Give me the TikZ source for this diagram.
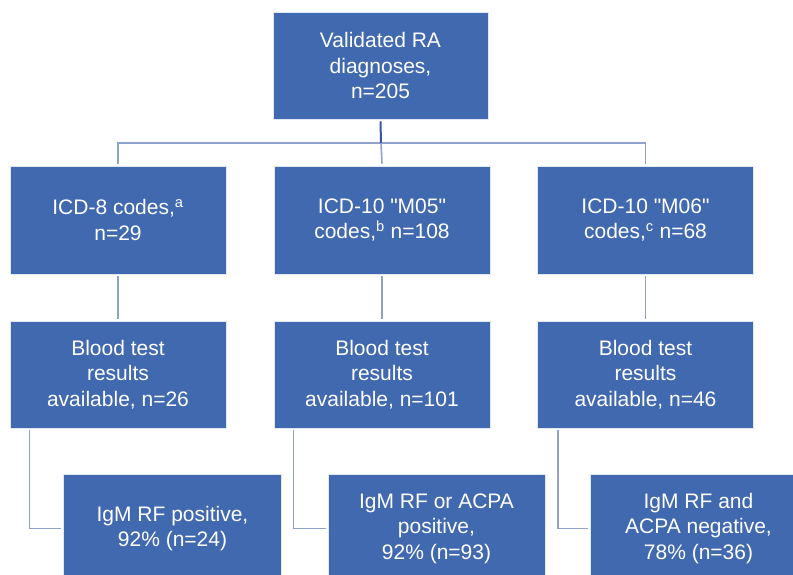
\documentclass[tikz,border=0pt]{standalone}
\usepackage{fontspec}
\setmainfont{Liberation Sans}[Ligatures=TeXOff]
\usetikzlibrary{calc}
\definecolor{boxblue}{HTML}{4169B0}
\definecolor{connblue}{HTML}{8FA2CC}
\definecolor{darkconn}{HTML}{3556A3}
\begin{document}
\begin{tikzpicture}[x=1pt,y=-1pt,
  box/.style={draw=white!85!boxblue,line width=0.8pt,fill=boxblue,text=white,align=center,
    minimum width=216pt,minimum height=108pt,inner sep=0pt,
    font=\fontsize{21}{25.5}\selectfont},
  conn/.style={draw=connblue,line width=1.6pt},
  topconn/.style={draw=darkconn,line width=2pt}]
\useasboundingbox[clip] (0,0) rectangle (793,575);
\fill[white] (0,0) rectangle (793,575);
\node[box,minimum width=215pt,minimum height=107pt] (top) at (380.5,65.5) {Validated RA\\diagnoses,\\n=205};
\node[box] (c1) at (118,220) {ICD-8 codes,\textsuperscript{a}\\n=29};
\node[box] (c2) at (382,220) {ICD-10 "M05"\\codes,\textsuperscript{b} n=108};
\node[box] (c3) at (645.5,220) {ICD-10 "M06"\\codes,\textsuperscript{c} n=68};
\node[box,minimum height=107pt] (b1) at (118,374.5) {Blood test\\results\\available, n=26};
\node[box,minimum height=107pt] (b2) at (382,374.5) {Blood test\\results\\available, n=101};
\node[box,minimum height=107pt] (b3) at (645.5,374.5) {Blood test\\results\\available, n=46};
\node[box,minimum width=218pt,minimum height=109pt] (r1) at (172.5,528.5) {IgM RF positive,\\92\% (n=24)};
\node[box,minimum width=217pt,minimum height=109pt] (r2) at (436.5,528.5) {IgM RF or ACPA\\positive,\\92\% (n=93)};
\node[box,minimum width=217pt,minimum height=109pt] (r3) at (698.5,528.5) {IgM RF and\\ACPA negative,\\78\% (n=36)};
\coordinate (jn) at (381,143);
\draw[conn] ($(c1.north)+(0,-2)$) |- (jn) -| ($(c3.north)+(0,-2)$);
\draw[conn] (jn) -- ($(c2.north)+(0,-2)$);
\draw[topconn] ($(top.south)+(0,2)$) -- (jn);
\draw[conn] ($(c1.south)+(0,2)$) -- ($(b1.north)+(0,-2)$);
\draw[conn] ($(c2.south)+(0,2)$) -- ($(b2.north)+(0,-2)$);
\draw[conn] ($(c3.south)+(0,2)$) -- ($(b3.north)+(0,-2)$);
\draw[conn] ($(b1.south west)+(20,2)$) |- ($(r1.west)+(-2,0)$);
\draw[conn] ($(b2.south west)+(20,2)$) |- ($(r2.west)+(-2,0)$);
\draw[conn] ($(b3.south west)+(21,2)$) |- ($(r3.west)+(-2,0)$);
\end{tikzpicture}
\end{document}
